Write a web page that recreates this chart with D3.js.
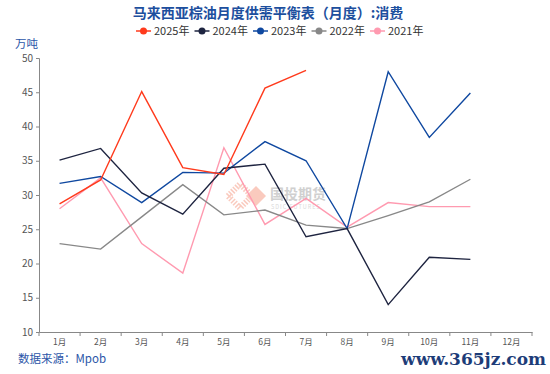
<!DOCTYPE html>
<html>
<meta charset="utf-8">
<head>
  <title>马来西亚棕油月度供需平衡表：消费</title>
</head>

<style>
body {
  margin: 0;
  background: #fff;
}
text {
  font-family: "Noto Sans CJK SC", "Noto Sans", sans-serif;
}
.axis path, .axis line {
  stroke: #888;
}
.axis text {
  fill: #555;
  font-size: 10px;
}
.series {
  fill: none;
  stroke-width: 1.4px;
}
</style>

<body>
  <svg width="550" height="374"></svg>

  <script src="https://cdnjs.cloudflare.com/ajax/libs/d3/7.8.5/d3.min.js"></script>

  <script>
var width = 550, height = 374
var margin = {top: 58, right: 18, bottom: 42, left: 39}

// month labels
var months = ['1月','2月','3月','4月','5月','6月','7月','8月','9月','10月','11月','12月']
var yTicks = [10, 15, 20, 25, 30, 35, 40, 45, 50]

// consumption, 万吨
var y2025 = [28.7, 32.2, 45.1, 34.0, 33.0, 45.6, 48.2]
var y2024 = [35.1, 36.8, 30.3, 27.2, 33.9, 34.5, 23.9, 25.1, 14.0, 20.9, 20.6]
var y2023 = [31.7, 32.7, 28.9, 33.3, 33.2, 37.8, 35.0, 25.1, 48.0, 38.4, 44.9]
var y2022 = [22.9, 22.1, 26.8, 31.5, 27.1, 27.8, 25.6, 25.1, 27.0, 29.0, 32.3]
var y2021 = [28.0, 32.5, 22.9, 18.6, 36.9, 25.7, 29.5, 25.3, 28.9, 28.3, 28.3]

var seriesNames = ['2025年', '2024年', '2023年', '2022年', '2021年']
var seriesColors = ['#ff3a1c', '#1e2440', '#0f48a0', '#888888', '#ff9ab0']
var seriesValues = [y2025, y2024, y2023, y2022, y2021]

var svg = d3.select('svg')

var x = d3.scaleBand()
  .domain(months)
  .range([margin.left, width - margin.right])

var y = d3.scaleLinear()
  .domain([10, 50])
  .range([height - margin.bottom, margin.top])

// title
svg.append('text')
  .attr('x', 268)
  .attr('y', 18)
  .attr('text-anchor', 'middle')
  .style('font-size', '14px')
  .style('font-weight', 'bold')
  .style('fill', '#1d4f9e')
  .text('马来西亚棕油月度供需平衡表（月度）:消费')

// legend
var legend = svg.append('g')
  .selectAll('g')
  .data(seriesNames)
  .enter()
  .append('g')
  .attr('transform', function(d, i) { return 'translate(' + (136 + i * 58.5) + ',35)' })

legend.append('line')
  .attr('x1', 0).attr('x2', 15)
  .attr('y1', -4).attr('y2', -4)
  .attr('stroke', function(d, i) { return seriesColors[i] })
  .attr('stroke-width', 1.5)

legend.append('circle')
  .attr('cx', 7.5).attr('cy', -4).attr('r', 3.5)
  .attr('fill', function(d, i) { return seriesColors[i] })

legend.append('text')
  .attr('x', 18)
  .style('font-size', '11px')
  .style('fill', '#333')
  .text(function(d) { return d })

// unit
svg.append('text')
  .attr('x', 15)
  .attr('y', 48)
  .style('font-size', '11.5px')
  .style('fill', '#2b56a8')
  .text('万吨')

// watermark
var wm = svg.append('g').attr('opacity', 0.55)
wm.append('path')
  .attr('d', 'M228,196 L240,184 L252,196 L240,208 Z')
  .attr('fill', 'none')
  .attr('stroke', '#f7a08a')
  .attr('stroke-dasharray', '1.5,1.5')
  .attr('stroke-width', 6)
wm.append('path')
  .attr('d', 'M246,196 L256,186 L266,196 L256,206 Z')
  .attr('fill', '#f7a08a')
wm.append('text')
  .attr('x', 270).attr('y', 199)
  .style('font-size', '14px')
  .style('font-weight', 'bold')
  .style('fill', '#aaa')
  .text('国投期货')
wm.append('text')
  .attr('x', 271).attr('y', 208.5)
  .style('font-size', '5.5px')
  .style('fill', '#bbb')
  .style('letter-spacing', '1px')
  .text('SDIC FUTURES')

// axes
svg.append('g')
  .attr('class', 'axis')
  .attr('transform', 'translate(' + margin.left + ',0)')
  .call(d3.axisLeft(y).tickValues(yTicks).tickSize(3).tickSizeOuter(3))

var xAxis = svg.append('g')
  .attr('class', 'axis')
  .attr('transform', 'translate(0,' + (height - margin.bottom) + ')')
  .call(d3.axisBottom(x).tickSize(0))

xAxis.selectAll('text')
  .attr('dy', '1.2em')
  .style('font-size', '8.5px')

xAxis.selectAll('.edge')
  .data(months.concat(['end']))
  .enter()
  .append('line')
  .attr('x1', function(d, i) { return margin.left + i * x.bandwidth() })
  .attr('x2', function(d, i) { return margin.left + i * x.bandwidth() })
  .attr('y1', 0).attr('y2', 4)
  .attr('stroke', '#888')

// lines (drawn oldest first so 2025 is on top)
var line = d3.line()
  .x(function(d, i) { return x(months[i]) + x.bandwidth() / 2 })
  .y(function(d) { return y(d) })

svg.append('g')
  .selectAll('path')
  .data(seriesValues.slice().reverse())
  .enter()
  .append('path')
  .attr('class', 'series')
  .attr('stroke', function(d, i) { return seriesColors[seriesColors.length - 1 - i] })
  .attr('d', line)

// source
svg.append('text')
  .attr('x', 18)
  .attr('y', 363)
  .style('font-size', '11.5px')
  .style('fill', '#2b56a8')
  .text('数据来源：Mpob')

svg.append('text')
  .attr('x', 546)
  .attr('y', 365)
  .attr('text-anchor', 'end')
  .style('font-family', '"DejaVu Serif", "Liberation Serif", serif')
  .style('font-size', '17px')
  .style('font-weight', 'bold')
  .style('fill', '#1d3c78')
  .text('www.365jz.com')
  </script>
</body>
</html>
